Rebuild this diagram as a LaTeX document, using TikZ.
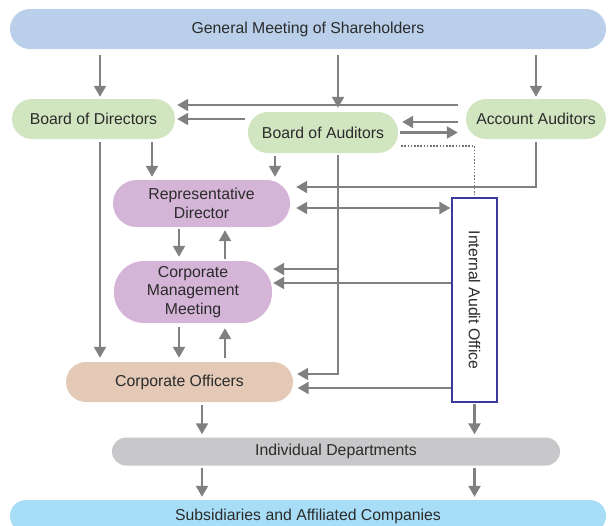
\documentclass[tikz,border=0pt]{standalone}
\usepackage{fontspec}
\setmainfont{Liberation Sans}
\usepackage{xcolor}
\usepackage{tikz}
\usetikzlibrary{arrows.meta}

\definecolor{gmblue}{HTML}{B9CFEA}
\definecolor{boardgreen}{HTML}{D0E5C0}
\definecolor{mgmtpurple}{HTML}{D4B4D7}
\definecolor{officertan}{HTML}{E3C9B6}
\definecolor{deptgray}{HTML}{C8C8CA}
\definecolor{subblue}{HTML}{A8DDF7}
\definecolor{auditblue}{HTML}{3A3A9A}
\definecolor{linegray}{HTML}{808080}
\definecolor{textgray}{HTML}{2B2B2B}

\begin{document}
\begin{tikzpicture}[x=1pt,y=1pt,>={Triangle[length=11pt,width=12pt]},
    box/.style={rounded corners=#1, inner sep=2pt, align=center, text=textgray,
      font=\fontsize{15.8}{18.5}\selectfont},
    box/.default=20pt,
    arr/.style={draw=linegray, line width=2.2pt, ->},
    dotline/.style={draw=linegray!90!black, line width=1.5pt, dash pattern=on 1.5pt off 1.7pt}]
    \useasboundingbox (0,0) rectangle (608,-525);

    % Boxes
    \node[box, fill=gmblue, minimum width=596, minimum height=40] (gm) at (308,-29) {General Meeting of Shareholders};
    \node[box, fill=boardgreen, minimum width=163, minimum height=40] (bod) at (93.5,-119) {Board of Directors};
    \node[box, fill=boardgreen, minimum width=150, minimum height=41] (boa) at (323,-132.5) {Board of Auditors};
    \node[box, fill=boardgreen, minimum width=140, minimum height=40] (aa) at (536,-119) {Account Auditors};
    \node[box=23.5pt, fill=mgmtpurple, minimum width=177, minimum height=47] (rd) at (201.5,-203.5) {Representative\\Director};
    \node[box=30pt, fill=mgmtpurple, minimum width=158, minimum height=62] (cmm) at (193,-292) {Corporate\\Management\\Meeting};
    \node[box, fill=officertan, minimum width=227, minimum height=40] (co) at (179.5,-382) {Corporate Officers};
    \node[draw=auditblue, line width=1.3pt, fill=white, rotate=-90, minimum width=204, minimum height=45,
      text=textgray, font=\fontsize{15.8}{18.5}\selectfont] (iao) at (474.5,-300) {Internal Audit Office};
    \node[box=14pt, fill=deptgray, minimum width=448, minimum height=28] (idp) at (336,-451.5) {Individual Departments};
    \node[box=16pt, fill=subblue, minimum width=596, minimum height=32] (sub) at (308,-516) {Subsidiaries and Affiliated Companies};

    \coordinate (bodx) at ([xshift=6.5pt]bod.center);
    \coordinate (boax) at ([xshift=15pt]boa.center);
    \coordinate (cox) at ([xshift=22.5pt]co.center);

    % Shareholders to the boards
    \draw[arr, shorten <=6pt, shorten >=2pt] (bodx |- gm.south) -- (bodx |- bod.north);
    \draw[arr, shorten <=6pt, shorten >=4pt] (boax |- gm.south) -- (boax |- boa.north);
    \draw[arr, shorten <=6pt, shorten >=2pt] (aa.north |- gm.south) -- (aa.north);

    % Between the boards
    \draw[arr, shorten <=8pt, shorten >=2pt] ([yshift=14pt]aa.west) -- ([yshift=14pt]bod.east);
    \draw[arr, shorten <=3pt, shorten >=2pt] (boa.west |- bod.east) -- (bod.east);
    \draw[arr, shorten <=8pt, shorten >=4pt] ([yshift=10.5pt]boa.east -| aa.west) -- ([yshift=10.5pt]boa.east);
    \draw[arr, shorten <=2pt, shorten >=8pt] (boa.east) -- (boa.east -| aa.west);
    \draw[dotline, shorten <=3pt, shorten >=3pt] ([yshift=-13.5pt]boa.east) -| (iao.west);

    % Down to the representative director
    \draw[arr, shorten <=3pt, shorten >=3pt] ([xshift=-49.5pt]rd.north |- bod.south) -- ([xshift=-49.5pt]rd.north);
    \draw[arr, shorten <=3pt, shorten >=3pt] ([xshift=73.5pt]rd.north |- boa.south) -- ([xshift=73.5pt]rd.north);
    \draw[arr, shorten <=3pt, shorten >=6pt] (aa.south) |- ([yshift=16.5pt]rd.east);
    \draw[arr, <->, shorten <=6pt, shorten >=1pt] ([yshift=-4.5pt]rd.east) -- ([yshift=-4.5pt]rd.east -| iao.south);

    % Long lines to the officers
    \draw[arr, shorten <=3pt, shorten >=4pt] (bodx |- bod.south) -- (bodx |- co.north);
    \draw[arr, shorten <=2pt, shorten >=4pt] (boax |- boa.south) |- ([yshift=8pt]co.east);
    \draw[arr, shorten >=1pt] ([yshift=23pt]cmm.east -| boax) -- ([yshift=23pt]cmm.east);

    % Management meeting
    \draw[arr, shorten <=2pt, shorten >=4pt] ([xshift=-22.5pt]rd.south) -- ([xshift=-22.5pt]rd.south |- cmm.north);
    \draw[arr, shorten <=2pt, shorten >=3pt] ([xshift=23.5pt]rd.south |- cmm.north) -- ([xshift=23.5pt]rd.south);
    \draw[arr, shorten <=4pt, shorten >=4pt] ([xshift=-14pt]cmm.south) -- ([xshift=-14pt]cmm.south |- co.north);
    \draw[arr, shorten <=4pt, shorten >=5pt] ([xshift=32pt]cmm.south |- co.north) -- ([xshift=32pt]cmm.south);

    % Internal audit office
    \draw[arr, shorten >=1pt] ([yshift=9pt]cmm.east -| iao.south) -- ([yshift=9pt]cmm.east);
    \draw[arr, shorten >=4.5pt] ([yshift=-6pt]co.east -| iao.south) -- ([yshift=-6pt]co.east);

    % Departments and subsidiaries
    \draw[arr, shorten <=3pt, shorten >=3pt] (cox |- co.south) -- (cox |- idp.north);
    \draw[arr, shorten <=1pt, shorten >=3pt] (iao.east) -- (iao.east |- idp.north);
    \draw[arr, shorten <=2pt, shorten >=3pt] (cox |- idp.south) -- (cox |- sub.north);
    \draw[arr, shorten <=2pt, shorten >=3pt] (iao.east |- idp.south) -- (iao.east |- sub.north);
\end{tikzpicture}
\end{document}
